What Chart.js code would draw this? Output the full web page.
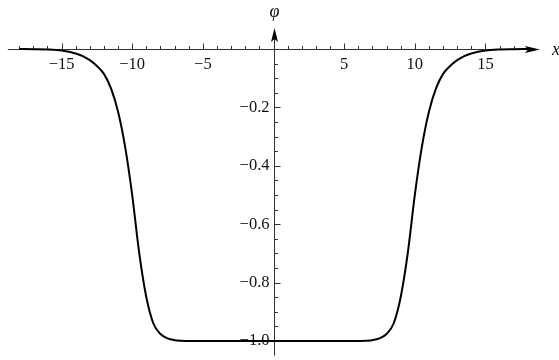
<!DOCTYPE html>
<html>
<head>
<meta charset="utf-8">
<script src="https://cdn.jsdelivr.net/npm/chart.js@4"></script>
<style>
  html, body { margin: 0; padding: 0; background: #fff; }
  canvas { display: block; }
</style>
</head>
<body>
<canvas id="grafico" width="559" height="360"></canvas>
<script>
// curve
var xs  = [-18, -17, -16, -15, -14, -13.5, -13, -12.5, -12, -11.5, -11, -10.5, -10, -9.5, -9, -8.5, -8, -7.5, -7, -6.5, -6,
           0,
           6, 6.5, 7, 7.5, 8, 8.5, 9, 9.5, 10, 10.5, 11, 11.5, 12, 12.5, 13, 13.5, 14, 15, 16, 17, 18];
var phi = [0, -0.0005, -0.0015, -0.005, -0.015, -0.024, -0.038, -0.058, -0.085, -0.135, -0.215, -0.335, -0.5, -0.7, -0.85, -0.94, -0.976, -0.991, -0.997, -0.999, -1,
           -1,
           -1, -0.999, -0.997, -0.991, -0.976, -0.94, -0.85, -0.7, -0.5, -0.335, -0.215, -0.135, -0.085, -0.058, -0.038, -0.024, -0.015, -0.005, -0.0015, -0.0005, 0];

var xTicks = [-15, -10, -5, 5, 10, 15];
var xTickLabels = ['\u221215', '\u221210', '\u22125', '5', '10', '15'];
var yTicks = [-0.2, -0.4, -0.6, -0.8, -1.0];
var yTickLabels = ['\u22120.2', '\u22120.4', '\u22120.6', '\u22120.8', '\u22121.0'];

var fuente = '"Liberation Serif", serif';

var puntos = [];
for (var i = 0; i < xs.length; i++) {
  puntos.push({x: xs[i], y: phi[i]});
}

// Mathematica style axes through the origin
var ejes = {
  id: 'ejes',
  beforeDatasetsDraw: function(chart) {
    var ctx = chart.ctx;
    var sx = chart.scales.x, sy = chart.scales.y;
    var x0 = Math.round(sx.getPixelForValue(0)) + 0.5;
    var y0 = Math.round(sy.getPixelForValue(0)) + 0.5;
    ctx.save();
    ctx.strokeStyle = '#333';
    ctx.fillStyle = '#000';
    ctx.lineWidth = 1;

    // x axis
    var xa = sx.getPixelForValue(-18.8);
    var xTip = sx.getPixelForValue(18.86);
    ctx.beginPath();
    ctx.moveTo(xa, y0);
    ctx.lineTo(xTip - 10, y0);
    ctx.stroke();
    ctx.beginPath();
    ctx.moveTo(xTip, y0);
    ctx.lineTo(xTip - 15, y0 - 3.5);
    ctx.lineTo(xTip - 12, y0);
    ctx.lineTo(xTip - 15, y0 + 3.5);
    ctx.closePath();
    ctx.fill();

    // y axis
    var yb = sy.getPixelForValue(-1.05);
    var yTip = sy.getPixelForValue(0.072);
    ctx.beginPath();
    ctx.moveTo(x0, yb);
    ctx.lineTo(x0, yTip + 10);
    ctx.stroke();
    ctx.beginPath();
    ctx.moveTo(x0, yTip);
    ctx.lineTo(x0 - 3.5, yTip + 14);
    ctx.lineTo(x0, yTip + 11);
    ctx.lineTo(x0 + 3.5, yTip + 14);
    ctx.closePath();
    ctx.fill();

    // x ticks
    for (var k = -18; k <= 17; k++) {
      if (k === 0) continue;
      var px = Math.round(sx.getPixelForValue(k)) + 0.5;
      var len = (k % 5 === 0) ? 6 : 3.5;
      ctx.beginPath();
      ctx.moveTo(px, y0);
      ctx.lineTo(px, y0 - len);
      ctx.stroke();
    }
    // y ticks
    for (var j = 1; j <= 20; j++) {
      var py = Math.round(sy.getPixelForValue(-j * 0.05)) + 0.5;
      var l = (j % 4 === 0) ? 6 : 3.5;
      ctx.beginPath();
      ctx.moveTo(x0, py);
      ctx.lineTo(x0 + l, py);
      ctx.stroke();
    }

    ctx.fillStyle = '#111';
    ctx.font = '16.5px ' + fuente;
    ctx.textAlign = 'center';
    ctx.textBaseline = 'middle';
    for (var a = 0; a < xTicks.length; a++) {
      ctx.fillText(xTickLabels[a], sx.getPixelForValue(xTicks[a]), y0 + 15);
    }
    ctx.textAlign = 'right';
    for (var b = 0; b < yTicks.length; b++) {
      ctx.fillText(yTickLabels[b], x0 - 5, sy.getPixelForValue(yTicks[b]));
    }

    ctx.font = 'italic 18px ' + fuente;
    ctx.textAlign = 'center';
    ctx.fillText('x', 556, y0 + 1);
    ctx.fillText('\u03C6', x0, 12);
    ctx.restore();
  }
};

var ctx = document.getElementById('grafico');
var myChart = new Chart(ctx, {
  type: 'scatter',
  data: {
    datasets: [{
      label: 'phi',
      data: puntos,
      showLine: true,
      borderColor: '#000',
      borderWidth: 2,
      pointRadius: 0,
      cubicInterpolationMode: 'monotone',
      clip: false
    }]
  },
  options: {
    responsive: false,
    animation: false,
    devicePixelRatio: 1,
    layout: { padding: 0 },
    scales: {
      x: { type: 'linear', min: -19.356, max: 20.205, display: false },
      y: { type: 'linear', min: -1.065, max: 0.168, display: false }
    },
    plugins: {
      legend: { display: false },
      tooltip: { enabled: false }
    }
  },
  plugins: [ejes]
});
</script>
</body>
</html>
